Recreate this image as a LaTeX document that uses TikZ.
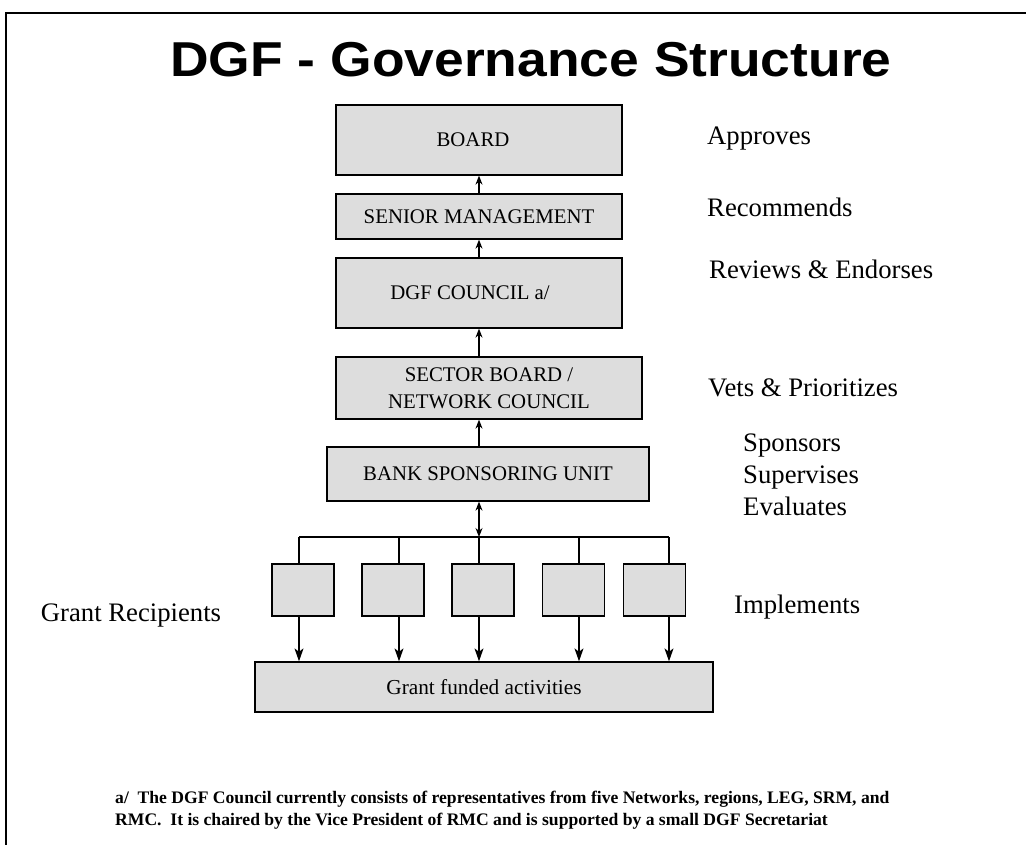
\documentclass[tikz,border=0pt]{standalone}
\usepackage{fontspec}
\setmainfont{Liberation Serif}
\newfontfamily\headfont{Liberation Sans}
\usetikzlibrary{arrows.meta}

\tikzset{
  box/.style={draw=black, line width=1.3pt, fill=boxgray, inner sep=0pt,
    align=center, font=\fontsize{20.8}{25}\selectfont},
  rolelabel/.style={anchor=base west, inner sep=0pt,
    font=\fontsize{26.7}{32}\selectfont},
  noteline/.style={anchor=base west, inner sep=0pt,
    font=\fontsize{17.6}{21}\selectfont\bfseries},
  link/.style={line width=1.2pt},
  uparrow/.style={line width=1.2pt, -{Stealth[length=9pt,width=7pt]}},
  downarrow/.style={line width=1.2pt, -{Stealth[length=13pt,width=9pt,inset=3.5pt]}},
  twoway/.style={line width=1.2pt, {Stealth[length=9pt,width=7pt]}-{Stealth[length=9pt,width=7pt]}}
}
\definecolor{boxgray}{HTML}{DDDDDD}

\begin{document}
\begin{tikzpicture}[x=1pt, y=-1pt]
\useasboundingbox (0,0) rectangle (1026,845);

% page frame (left and top edges)
\draw[line width=2pt] (6,845) -- (6,13) -- (1026,13);

% heading
\node[anchor=base, inner sep=0pt] (title) at (531,76.7)
  {\scalebox{1.09}[1]{\headfont\bfseries\fontsize{49}{56}\selectfont DGF - Governance Structure}};

% hierarchy boxes
\node[box, minimum width=286pt, minimum height=70pt] (board)   at (479,140)   {BOARD\hspace*{12pt}};
\node[box, minimum width=286pt, minimum height=45pt] (senior)  at (479,216.5) {SENIOR MANAGEMENT};
\node[box, minimum width=286pt, minimum height=70pt] (council) at (479,293)   {DGF COUNCIL a/\hspace*{18pt}};
\node[box, minimum width=306pt, minimum height=62pt, font=\fontsize{20.8}{27}\selectfont] (sector) at (489,388)
  {SECTOR BOARD /\\NETWORK COUNCIL};
\node[box, minimum width=322pt, minimum height=54pt] (bank)    at (488,474)   {BANK SPONSORING UNIT};

% grant recipients
\node[box, minimum width=62pt, minimum height=52pt] (r1) at (303,590) {};
\node[box, minimum width=62pt, minimum height=52pt] (r2) at (393,590) {};
\node[box, minimum width=62pt, minimum height=52pt] (r3) at (483,590) {};
\node[box, minimum width=62pt, minimum height=52pt] (r4) at (573.5,590) {};
\node[box, minimum width=62pt, minimum height=52pt] (r5) at (654.5,590) {};

\node[box, minimum width=458pt, minimum height=50pt, font=\fontsize{21.3}{25}\selectfont] (grant) at (484,687)
  {Grant funded activities};

% upward reporting line
\draw[uparrow] (senior.north) -- (board.south);
\draw[uparrow] (council.north) -- (senior.south);
\draw[uparrow] (sector.north -| council.north) -- (council.south);
\draw[uparrow] (bank.north -| council.north) -- (sector.south -| council.north);

% distribution bus
\coordinate (b1) at (299,537);
\coordinate (b2) at (399,537);
\coordinate (b3) at (479,537);
\coordinate (b4) at (579,537);
\coordinate (b5) at (669,537);
\draw[twoway] (bank.south -| b3) -- (b3);
\draw[link] (b1) -- (b5);
\foreach \i in {1,...,5} {
  \draw[link] (b\i) -- (b\i |- r\i.north);
  \draw[downarrow] (b\i |- r\i.south) -- (b\i |- grant.north);
}

% role descriptions
\node[rolelabel] (lapp) at (707,145)   {Approves};
\node[rolelabel] (lrec) at (707,216.7) {Recommends};
\node[rolelabel] (lrev) at (709,279)   {Reviews \& Endorses};
\node[rolelabel] (lvet) at (708,396)   {Vets \& Prioritizes};
\node[rolelabel] (lsp1) at (743,451)   {Sponsors};
\node[rolelabel] (lsp2) at (743,483)   {Supervises};
\node[rolelabel] (lsp3) at (743,515)   {Evaluates};
\node[rolelabel] (limp) at (734,613)   {Implements};
\node[rolelabel] (lgr)  at (40.7,621.7) {Grant Recipients};

% footnote
\node[noteline] (fn1) at (115,803)
  {a/\ \ The DGF Council currently consists of representatives from five Networks, regions, LEG, SRM, and};
\node[noteline] (fn2) at (115,825.5)
  {RMC.\ \ It is chaired by the Vice President of RMC and is supported by a small DGF Secretariat};
\end{tikzpicture}
\end{document}
